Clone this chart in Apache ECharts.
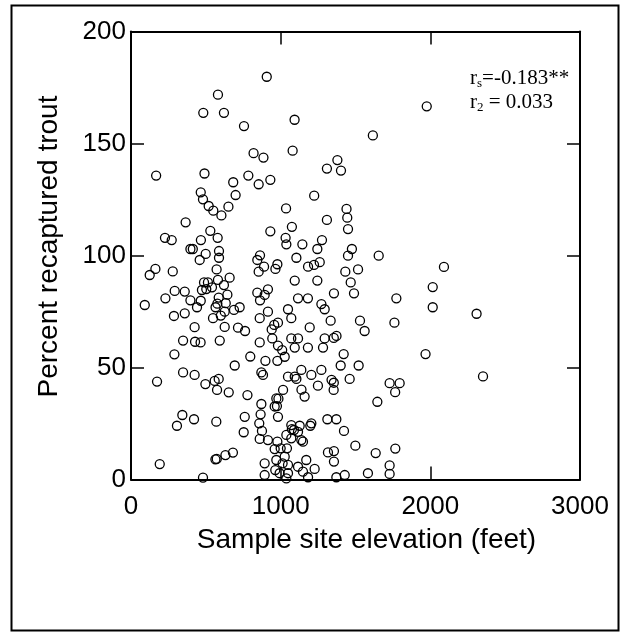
<!DOCTYPE html>
<html>
<head>
<meta charset="utf-8">
<script src="https://cdn.jsdelivr.net/npm/echarts@6/dist/echarts.min.js"></script>
<style>
html,body{margin:0;padding:0;background:#fff;}
#chart{width:626px;height:636px;}
</style>
</head>
<body>
<div id="chart"></div>
<script>
// Sample site elevation (feet)
const elevation = [
907,581,1976,483,621,1093,755,1616,1080,819,885,1379,1309,1403,168,491,784,931,683,853,
466,699,1224,481,519,651,550,604,1036,1440,1309,1445,365,1075,1450,530,931,579,227,272,
467,1033,1276,1145,1038,397,413,1245,1476,588,499,862,1655,1450,588,844,459,1105,978,2091,
965,889,1183,1223,1261,163,572,1432,1517,853,279,125,659,581,1094,1245,1468,488,514,621,
2016,474,541,503,915,292,359,844,1356,1490,644,893,586,1116,1182,1773,230,397,862,466,
577,633,92,1272,441,2016,565,726,1294,1049,626,688,915,359,2309,287,548,600,860,1071,
1334,1530,1760,982,957,715,626,425,1194,940,762,1561,944,1071,1116,1294,1373,1355,348,593,
428,465,860,982,1094,1182,1283,1010,1027,1421,290,1968,797,898,978,693,1401,1521,348,1272,
1138,871,882,425,1205,1049,1094,1105,2352,1461,174,497,559,586,1340,1355,1795,1728,1249,1139,
1354,575,1016,653,1765,1160,778,971,985,1646,871,960,975,343,760,866,982,421,1312,1372,
570,307,857,1205,1198,1071,1127,1089,1075,875,1423,1116,753,1038,860,915,1071,1138,1149,978,
1499,1766,960,1000,1042,1356,1316,1635,681,631,1027,564,573,1171,971,1356,192,893,1013,1049,
1116,1728,1227,964,1049,1149,1583,893,1428,1728,993,1038,481,1183,1372
];
// Percent recaptured trout
const percent = [
179.8,171.8,166.6,163.7,163.7,160.6,157.8,153.6,146.8,145.7,143.7,142.6,138.8,137.9,135.7,136.6,135.7,133.8,132.7,131.8,
128.2,127.0,126.7,125.1,122.1,121.8,120.0,117.9,121.0,120.8,115.9,116.9,114.8,112.8,111.8,111.0,110.8,107.9,107.9,106.9,
106.9,107.9,106.9,105.0,105.0,102.9,102.9,102.9,102.9,102.0,100.7,100.1,99.9,99.9,99.0,98.0,98.0,99.0,96.1,94.9,
94.0,95.0,95.0,95.8,97.0,94.0,93.8,92.8,93.8,92.8,92.9,91.3,90.1,89.1,88.8,88.8,88.0,88.0,88.0,86.8,
85.9,84.6,85.8,85.0,84.9,84.2,83.9,83.4,83.1,83.1,82.5,82.4,81.2,80.9,80.9,80.9,80.9,80.0,80.0,79.8,
78.5,78.7,77.9,78.3,76.9,76.9,76.9,76.9,76.0,76.0,74.9,75.7,74.9,74.2,74.0,73.0,72.0,73.2,72.0,72.0,
70.9,70.9,70.0,70.0,69.0,67.8,68.1,68.0,67.9,67.0,66.3,66.3,63.0,63.0,63.0,63.0,64.1,63.2,62.0,62.0,
61.5,61.2,61.2,59.8,58.9,58.9,58.9,57.8,54.8,56.0,55.9,56.0,54.9,53.0,53.0,50.9,50.9,50.9,47.8,48.9,
48.9,47.8,46.7,46.7,46.7,45.9,45.9,44.9,46.0,44.9,43.7,42.6,44.0,44.9,44.5,43.2,43.0,43.0,41.9,40.1,
40.0,40.0,40.0,38.9,39.0,37.0,37.7,36.2,36.1,34.7,33.7,32.6,32.8,28.8,28.0,29.1,28.0,26.9,26.9,26.9,
25.8,24.0,25.1,25.1,24.0,24.3,24.0,22.1,22.5,21.7,21.7,21.3,21.1,19.9,18.1,17.6,18.4,17.6,16.9,16.9,
15.1,13.8,13.6,13.9,13.9,12.7,12.1,11.8,12.0,10.9,10.2,9.0,9.2,8.7,8.7,8.0,6.9,7.2,7.2,6.5,
5.7,6.3,4.7,4.2,2.8,3.5,2.8,2.0,2.0,2.5,2.8,0.5,0.8,1.0,1.0
];
const xTicks = { min: 0, max: 3000, interval: 1000 };
const yTicks = { min: 0, max: 200, interval: 50 };
const xTitle = 'Sample site elevation (feet)';
const yTitle = 'Percent recaptured trout';
const statLine1 = ['r', 's', '=-0.183**'];
const statLine2 = ['r', '2', ' = 0.033'];

const points = elevation.map((x, i) => [x, percent[i]]);

const sans = 'Liberation Sans, Arial, Helvetica, sans-serif';
const serif = 'Liberation Serif, Times New Roman, serif';

const tickStyle = { show: true, inside: true, length: 13, lineStyle: { color: '#000', width: 1.5 } };
const lineStyle = { show: true, onZero: false, lineStyle: { color: '#000', width: 2 } };
const plain = v => String(v);

function mkX(pos, labels) {
  return {
    type: 'value', position: pos, min: xTicks.min, max: xTicks.max, interval: xTicks.interval,
    axisLine: lineStyle, axisTick: tickStyle, splitLine: { show: false },
    axisLabel: { show: labels, color: '#000', fontSize: 26, fontFamily: sans, margin: 14, formatter: plain },
    name: labels ? xTitle : '', nameLocation: 'middle', nameGap: 47,
    nameTextStyle: { color: '#000', fontSize: 28, fontFamily: sans, padding: [0, 0, 0, 22] }
  };
}
function mkY(pos, labels) {
  return {
    type: 'value', position: pos, min: yTicks.min, max: yTicks.max, interval: yTicks.interval,
    axisLine: lineStyle, axisTick: tickStyle, splitLine: { show: false },
    axisLabel: { show: labels, color: '#000', fontSize: 26, fontFamily: sans, margin: 5, formatter: plain },
    name: labels ? yTitle : '', nameLocation: 'middle', nameGap: 68, nameRotate: 90,
    nameTextStyle: { color: '#000', fontSize: 28, fontFamily: sans, padding: [0, 0, 0, 18] }
  };
}

const chart = echarts.init(document.getElementById('chart'), null, { renderer: 'canvas' });
chart.setOption({
  backgroundColor: '#fff',
  animation: false,
  grid: { left: 131, right: 46, top: 31.5, bottom: 156.5 },
  xAxis: [mkX('bottom', true), mkX('top', false)],
  yAxis: [mkY('left', true), mkY('right', false)],
  series: [{
    type: 'scatter', xAxisIndex: 0, yAxisIndex: 0, data: points, silent: true,
    symbol: 'circle', symbolSize: 9,
    itemStyle: { color: 'rgba(0,0,0,0)', borderColor: '#000', borderWidth: 1.3, opacity: 1 }
  }],
  graphic: [
    { type: 'rect', silent: true, shape: { x: 11.5, y: 5.5, width: 607, height: 625 },
      style: { fill: 'none', stroke: '#000', lineWidth: 2 } },
    { type: 'text', silent: true, left: 470, top: 68,
      style: {
        text: '{m|' + statLine1[0] + '}{s|' + statLine1[1] + '}{m|' + statLine1[2] + '}',
        rich: {
          m: { fontFamily: serif, fontSize: 21, lineHeight: 23, fill: '#000', verticalAlign: 'middle' },
          s: { fontFamily: serif, fontSize: 13, lineHeight: 13, fill: '#000', verticalAlign: 'bottom' }
        }
      } },
    { type: 'text', silent: true, left: 470, top: 92,
      style: {
        text: '{m|' + statLine2[0] + '}{s|' + statLine2[1] + '}{m|' + statLine2[2] + '}',
        rich: {
          m: { fontFamily: serif, fontSize: 21, lineHeight: 23, fill: '#000', verticalAlign: 'middle' },
          s: { fontFamily: serif, fontSize: 13, lineHeight: 13, fill: '#000', verticalAlign: 'bottom' }
        }
      } }
  ]
});
</script>
</body>
</html>
